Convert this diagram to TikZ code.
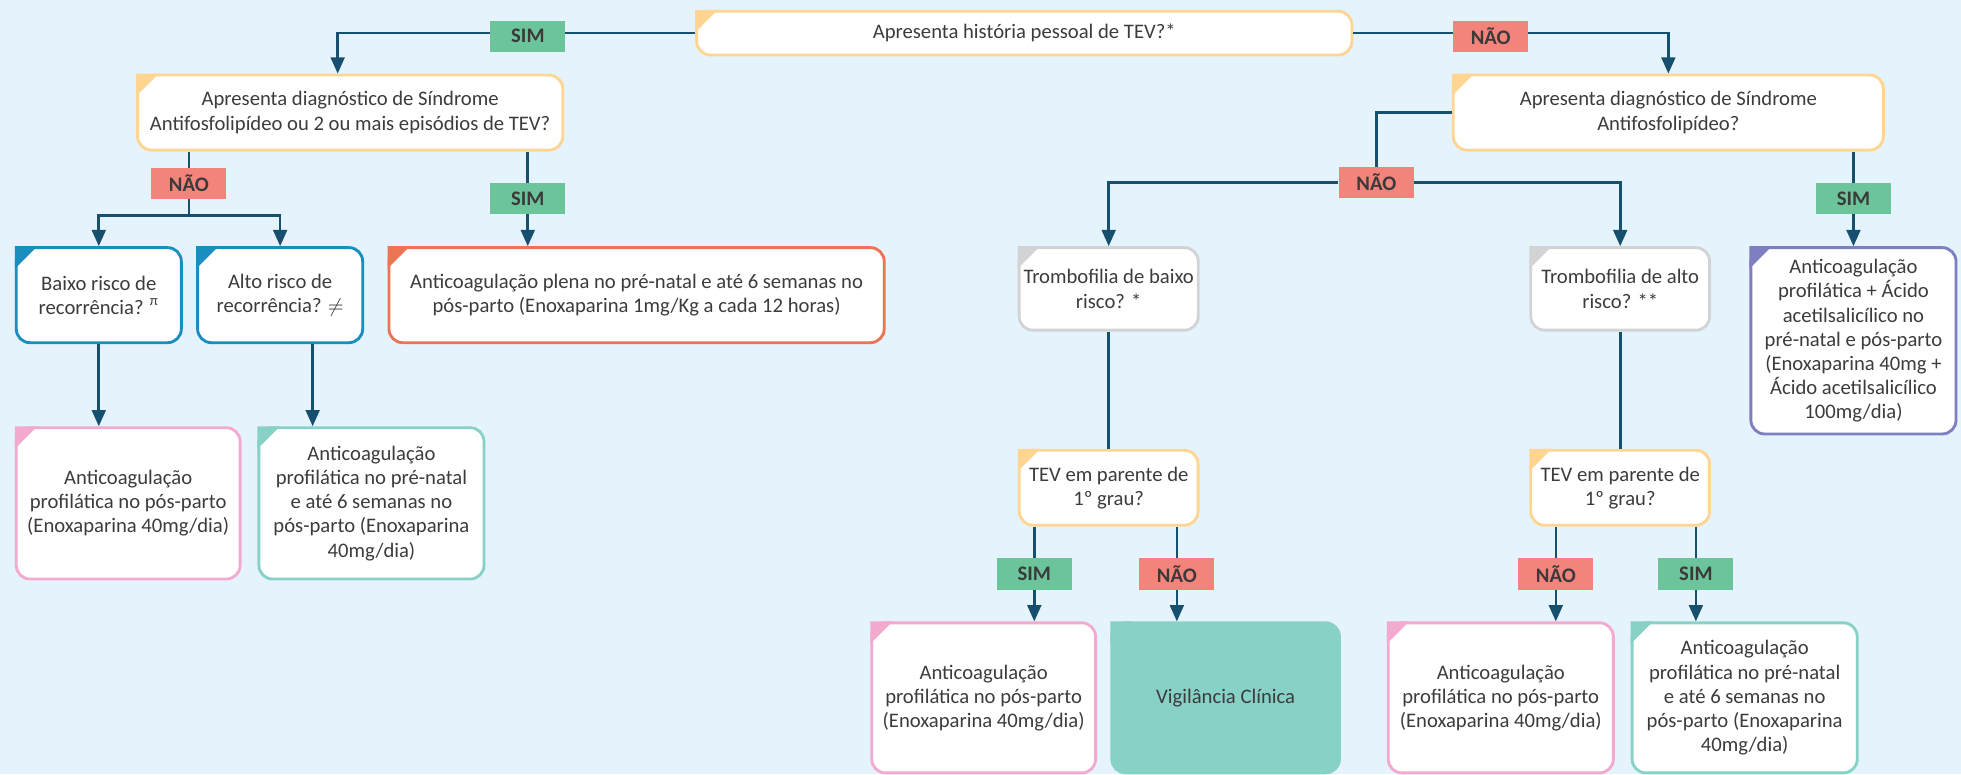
\documentclass[tikz,border=0pt]{standalone}
\usepackage{fontspec}
\setmainfont{Carlito}
\usetikzlibrary{arrows.meta}

\definecolor{bgblue}{HTML}{E5F4FC}
\definecolor{linkblue}{HTML}{17506F}
\definecolor{txtgray}{HTML}{3C3C3C}
\definecolor{lbltext}{HTML}{3A3A3A}
\definecolor{simgreen}{HTML}{6CC49B}
\definecolor{naored}{HTML}{F3837B}
\definecolor{boxyellow}{HTML}{FFD591}
\definecolor{boxblue}{HTML}{1A8FBF}
\definecolor{boxorange}{HTML}{EC7453}
\definecolor{boxpink}{HTML}{F4A9CF}
\definecolor{boxteal}{HTML}{88D1C7}
\definecolor{boxgray}{HTML}{D2D3D5}
\definecolor{boxpurple}{HTML}{7D7FC0}

\begin{document}
\begin{tikzpicture}[font=\fontsize{9.4}{11}\selectfont, text=txtgray]
\tikzstyle{box}=[rectangle, draw=#1, fill=white, line width=1.3pt, rounded corners=2.2mm, align=center, inner sep=2pt]
\tikzstyle{lblsim}=[rectangle, fill=simgreen, minimum width=1.2cm, minimum height=0.5cm, inner sep=0pt, text=lbltext, font=\fontsize{9.4}{11}\selectfont\bfseries]
\tikzstyle{lblnao}=[lblsim, fill=naored]
\tikzstyle{arrow}=[-{Triangle[length=2.6mm, width=2.2mm]}, line width=1.2pt, draw=linkblue]
\tikzstyle{link}=[line width=1.2pt, draw=linkblue]

\useasboundingbox[fill=bgblue] (0,0) rectangle (31.36,-12.38);

% perguntas
\node [box=boxyellow, minimum width=10.48cm, minimum height=0.70cm] at (16.38,-0.53) (q1) {Apresenta história pessoal de TEV?*};
\node [box=boxyellow, minimum width=6.80cm, minimum height=1.20cm] at (5.60,-1.80) (q2L) {Apresenta diagnóstico de Síndrome\\Antifosfolipídeo ou 2 ou mais episódios de TEV?};
\node [box=boxyellow, minimum width=6.88cm, minimum height=1.20cm] at (26.68,-1.80) (q2R) {Apresenta diagnóstico de Síndrome\\Antifosfolipídeo?};

% lado esquerdo
\node [box=boxblue, minimum width=2.64cm, minimum height=1.52cm] at (1.58,-4.72) (baixo) {Baixo risco de\\recorrência? \textsuperscript{π}};
\node [box=boxblue, minimum width=2.64cm, minimum height=1.52cm] at (4.48,-4.72) (alto) {Alto risco de\\recorrência? $\neq$};
\node [box=boxorange, minimum width=7.92cm, minimum height=1.52cm] at (10.18,-4.72) (plena) {Anticoagulação plena no pré-natal e até 6 semanas no\\pós-parto (Enoxaparina 1mg/Kg a cada 12 horas)};
\node [box=boxpink, minimum width=3.58cm, minimum height=2.42cm] at (2.05,-8.05) (posL) {Anticoagulação\\profilática no pós-parto\\(Enoxaparina 40mg/dia)};
\node [box=boxteal, minimum width=3.60cm, minimum height=2.42cm] at (5.94,-8.05) (prenatalL) {Anticoagulação\\profilática no pré-natal\\e até 6 semanas no\\pós-parto (Enoxaparina\\40mg/dia)};

% lado direito
\node [box=boxgray, minimum width=2.86cm, minimum height=1.32cm] at (17.73,-4.62) (trbaixo) {Trombofilia de baixo\\risco? *};
\node [box=boxgray, minimum width=2.86cm, minimum height=1.32cm] at (25.91,-4.62) (tralto) {Trombofilia de alto\\risco? **};
\node [box=boxpurple, minimum width=3.28cm, minimum height=2.98cm] at (29.64,-5.45) (aas) {Anticoagulação\\profilática + Ácido\\acetilsalicílico no\\pré-natal e pós-parto\\(Enoxaparina 40mg +\\Ácido acetilsalicílico\\100mg/dia)};
\node [box=boxyellow, minimum width=2.86cm, minimum height=1.20cm] at (17.73,-7.80) (tevbaixo) {TEV em parente de\\1º grau?};
\node [box=boxyellow, minimum width=2.86cm, minimum height=1.20cm] at (25.91,-7.80) (tevalto) {TEV em parente de\\1º grau?};
\node [box=boxpink, minimum width=3.58cm, minimum height=2.40cm] at (15.73,-11.16) (posM) {Anticoagulação\\profilática no pós-parto\\(Enoxaparina 40mg/dia)};
\node [box=boxteal, fill=boxteal, minimum width=3.64cm, minimum height=2.40cm] at (19.60,-11.16) (vig) {Vigilância Clínica};
\node [box=boxpink, minimum width=3.60cm, minimum height=2.40cm] at (24.00,-11.16) (posR) {Anticoagulação\\profilática no pós-parto\\(Enoxaparina 40mg/dia)};
\node [box=boxteal, minimum width=3.60cm, minimum height=2.40cm] at (27.90,-11.16) (prenatalR) {Anticoagulação\\profilática no pré-natal\\e até 6 semanas no\\pós-parto (Enoxaparina\\40mg/dia)};

% cantos coloridos
\foreach \n/\c in {q1/boxyellow, q2L/boxyellow, q2R/boxyellow, baixo/boxblue, alto/boxblue, plena/boxorange, posL/boxpink, prenatalL/boxteal, trbaixo/boxgray, tralto/boxgray, aas/boxpurple, tevbaixo/boxyellow, tevalto/boxyellow, posM/boxpink, vig/boxteal, posR/boxpink, prenatalR/boxteal}
  \fill[\c] (\n.north west) -- ++(3.6mm,0) -- ++(-3.6mm,-3.6mm) -- cycle;

\node [lblnao] at (22.01,-2.92) (naoR) {NÃO};

\draw[arrow] (q1.west) -| node[lblsim, pos=0.234, yshift=-0.5mm] {SIM} ([xshift=-2mm]q2L.north);
\draw[arrow] (q1.east) -| node[lblnao, pos=0.218, yshift=-0.5mm] {NÃO} (q2R.north);

\draw[link] ([xshift=-2.58cm]q2L.south) -- node[lblnao] {NÃO} ++(0,-1.02) coordinate (splitL);
\draw[arrow] (splitL) -| (baixo);
\draw[arrow] (splitL) -| (alto);
\draw[arrow] ([xshift=2.84cm]q2L.south) -- node[lblsim] {SIM} ([xshift=2.84cm]q2L.south |- plena.north);

\draw[arrow] (baixo) -- (baixo |- posL.north);
\draw[arrow] ([xshift=5.2mm]alto.south) -- ([xshift=5.2mm]alto.south |- prenatalL.north);

\draw[link] (q2R.west) -| (naoR.north);
\draw[arrow] (naoR.west) -| (trbaixo);
\draw[arrow] (naoR.east) -| (tralto);
\draw[arrow] (aas.north |- q2R.south) -- node[lblsim] {SIM} (aas);

\draw[link] (trbaixo) -- (tevbaixo);
\draw[link] (tralto) -- (tevalto);

\draw[arrow] ([xshift=-11.9mm]tevbaixo.south) -- node[lblsim] {SIM} ([xshift=-11.9mm]tevbaixo.south |- posM.north);
\draw[arrow] ([xshift=10.9mm]tevbaixo.south) -- node[lblnao] {NÃO} ([xshift=10.9mm]tevbaixo.south |- vig.north);
\draw[arrow] ([xshift=-10.3mm]tevalto.south) -- node[lblnao] {NÃO} ([xshift=-10.3mm]tevalto.south |- posR.north);
\draw[arrow] ([xshift=12.1mm]tevalto.south) -- node[lblsim] {SIM} ([xshift=12.1mm]tevalto.south |- prenatalR.north);

\end{tikzpicture}
\end{document}
